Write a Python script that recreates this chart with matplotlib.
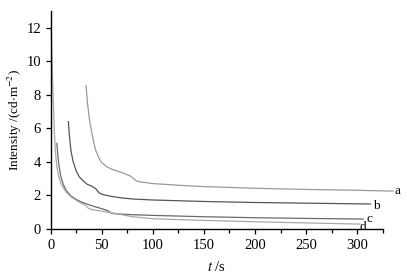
import numpy as np

import matplotlib
matplotlib.use('Agg')
import matplotlib.pyplot as plt
from matplotlib.ticker import MultipleLocator

# Curve a
t_a = [34.6, 36, 38, 40, 42, 44, 47, 50, 55, 60, 70, 78, 81, 84, 90, 100, 125, 150, 200, 250, 300, 335]
y_a = [8.55, 7.5, 6.5, 5.8, 5.2, 4.7, 4.25, 3.95, 3.7, 3.55, 3.35, 3.15, 3.0, 2.85, 2.78, 2.7, 2.6, 2.52, 2.42, 2.35, 2.3, 2.25]

# Curve b
t_b = [17.3, 18, 19, 20, 22, 25, 28, 32, 36, 40, 44, 46, 48, 52, 60, 70, 80, 100, 150, 200, 250, 313]
y_b = [6.4, 5.8, 5.1, 4.6, 4.0, 3.45, 3.1, 2.85, 2.65, 2.55, 2.4, 2.25, 2.12, 2.03, 1.93, 1.84, 1.78, 1.72, 1.63, 1.57, 1.53, 1.48]

# Curve c
t_c = [6, 7, 8, 10, 12, 15, 20, 25, 30, 40, 50, 56, 59, 62, 80, 100, 150, 200, 250, 306]
y_c = [5.1, 4.4, 3.8, 3.1, 2.7, 2.3, 1.95, 1.75, 1.6, 1.38, 1.2, 1.08, 0.95, 0.9, 0.84, 0.8, 0.72, 0.66, 0.62, 0.58]

# Curve d
t_d = [0.5, 1.5, 2.5, 3.5, 4.5, 6, 8, 10, 15, 20, 25, 30, 34, 37, 40, 50, 60, 80, 100, 150, 200, 250, 303]
y_d = [11.9, 9.6, 7.6, 5.9, 4.7, 3.7, 3.1, 2.7, 2.2, 1.9, 1.7, 1.52, 1.4, 1.22, 1.15, 1.05, 0.95, 0.72, 0.6, 0.5, 0.42, 0.35, 0.28]

labels = ['a', 'b', 'c', 'd']

plt.rcParams['font.family'] = ['Liberation Serif', 'DejaVu Serif']
plt.rcParams['mathtext.fontset'] = 'stix'

fig = plt.figure(figsize=(4.07, 2.79), dpi=100)
ax = fig.add_axes([0.1246, 0.18, 0.8157, 0.78])

series = [(t_a, y_a, '#9a9a9a'), (t_b, y_b, '#555555'),
          (t_c, y_c, '#6a6a6a'), (t_d, y_d, '#a8a8a8')]
for (t, y, col), lab in zip(series, labels):
    ax.plot(t, y, color=col, lw=0.9, clip_on=False)

# end labels
ax.text(337, 2.25, 'a', fontsize=9.5, va='center', ha='left', clip_on=False)
ax.text(316, 1.38, 'b', fontsize=9.5, va='center', ha='left', clip_on=False)
ax.text(309, 0.6, 'c', fontsize=9.5, va='center', ha='left', clip_on=False)
ax.text(302, 0.12, 'd', fontsize=9.5, va='center', ha='left', clip_on=False)

ax.set_xlim(0, 325)
ax.set_ylim(0, 13)
ax.xaxis.set_major_locator(MultipleLocator(50))
ax.xaxis.set_minor_locator(MultipleLocator(25))
ax.yaxis.set_major_locator(MultipleLocator(2))

for spine in ['top', 'right']:
    ax.spines[spine].set_visible(False)
for spine in ['left', 'bottom']:
    ax.spines[spine].set_linewidth(1.0)

ax.tick_params(axis='both', which='major', direction='out', length=3.5, width=0.9, labelsize=10.5)
ax.tick_params(axis='x', which='minor', direction='out', length=3, width=0.9)

ax.set_ylabel('Intensity /(cd$\\cdot$m$^{-2}$)', fontsize=9.5, labelpad=2)
ax.set_xlabel('$t$ /s', fontsize=10.5, labelpad=6)

fig.savefig('out.png', dpi=100)
plt.close(fig)
